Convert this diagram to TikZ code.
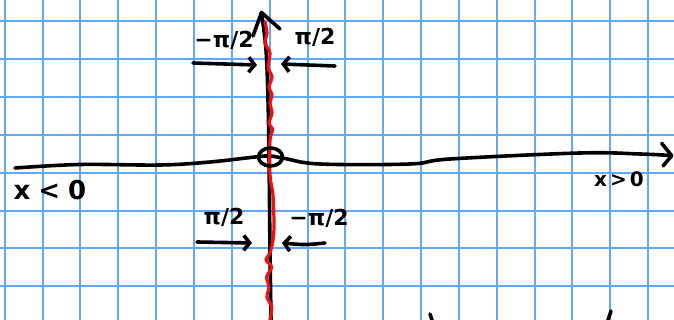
\documentclass[tikz,border=0pt]{standalone}
\usepackage{fontspec}
\setmainfont{DejaVu Sans}
\usetikzlibrary{arrows.meta}
\definecolor{gridblue}{RGB}{96,168,250}
\definecolor{penred}{RGB}{240,16,16}
\begin{document}
\begin{tikzpicture}[x=1pt,y=-1pt,
  gridline/.style={gridblue, line width=2pt},
  pen/.style={black, line width=3.6pt, line cap=round, line join=round},
  redpen/.style={penred, line width=3.2pt, line cap=round, line join=round},
  barb/.style={-{Straight Barb[length=6pt,width=15pt]}},
  lbl/.style={font=\fontsize{22}{22}\selectfont\bfseries, inner sep=0pt},
  side/.style={inner sep=0pt}
]
\useasboundingbox (0,0) rectangle (674,320);
\fill[white] (0,0) rectangle (674,320);
% graph paper
\foreach \i in {0,...,17} \draw[gridline] ({4.7+37.85*\i},0) -- ({4.7+37.85*\i},320);
\foreach \j in {0,...,7} \draw[gridline] (0,{21.3+37.85*\j}) -- (674,{21.3+37.85*\j});
% horizontal axis
\draw[pen] plot[smooth, tension=0.6] coordinates {(15,168) (80,164.5) (160,165) (210,162) (255,157) (270,156) (285,158.5) (320,164) (410,164) (450,159) (580,153) (640,154) (671,155.5)};
\coordinate (xtip) at (671.7,155.7);
\draw[pen] (661.7,143.3) -- (xtip) -- (663,166);
% vertical axis
\coordinate (ytip) at (261.5,12.5);
\draw[pen] plot[smooth, tension=0.6] coordinates {(ytip) (266,50) (268,100) (269,157) (270,250) (271,320)};
\draw[pen] (253,36) -- (ytip) -- (280,29);
% red wavy line
\draw[redpen] plot[smooth, tension=0.5] coordinates {(265,22) (267,33) (265,43) (270,53) (268,67) (272,77) (269,87) (272,95) (270,103) (272,113) (269,123) (272.7,130) (270,140) (270,175) (273,195) (274,225) (273,240) (270,253) (266,260) (271.7,267) (266.7,277) (269,287) (267,297) (271.7,307) (270,320)};
% origin circle
\draw[pen] (270.5,157) ellipse [x radius=12, y radius=9];
% arrows
\coordinate (a1s) at (193,63);  \coordinate (a1e) at (257,65);
\coordinate (a2s) at (335,66);  \coordinate (a2e) at (281,64);
\coordinate (a3s) at (197,242); \coordinate (a3e) at (252,243);
\coordinate (a4s) at (325,243); \coordinate (a4e) at (282,243);
\draw[pen, barb] (a1s) -- (a1e);
\draw[pen, barb] (a2s) -- (a2e);
\draw[pen, barb] (a3s) -- (a3e);
\draw[pen, barb] (a4s) .. controls (305,245) .. (a4e);
% labels
\node[lbl] (tl) at (224,40) {−π/2};
\node[lbl] (tr) at (315,37) {π/2};
\node[lbl] (bl) at (224,217) {π/2};
\node[lbl] (br) at (319,218) {−π/2};
\node[side, font=\fontsize{26}{26}\selectfont\bfseries] (xneg) at (50,190) {x\hspace{8pt}<\hspace{8pt}0};
\node[side, font=\fontsize{20}{20}\selectfont\bfseries] (xpos) at (619,179) {x\hspace{3pt}>\hspace{3pt}0};
% partial strokes at the bottom edge
\draw[pen] (430,314) -- (432,320);
\draw[pen] (611,311) -- (608,320);
\end{tikzpicture}
\end{document}
